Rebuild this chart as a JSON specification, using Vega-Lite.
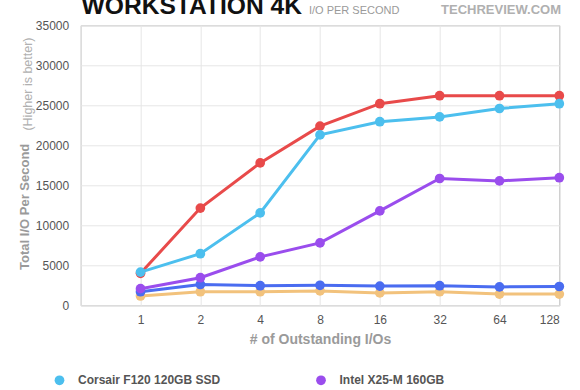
{
  "$schema": "https://vega.github.io/schema/vega-lite/v6.json",
  "width": 478.6,
  "height": 280,
  "autosize": {"type": "none"},
  "padding": {"left": 80.7, "top": 25.3, "right": 20.7, "bottom": 84.7},
  "background": "white",
  "config": {
    "view": {"stroke": "#b0b0b0", "strokeWidth": 1},
    "font": "Liberation Sans",
    "axis": {
      "labelFont": "Liberation Sans",
      "labelFontSize": 12,
      "labelColor": "#555555",
      "labelOverlap": false,
      "titleFont": "Liberation Sans",
      "titleColor": "#9a9a9a",
      "titleFontWeight": "bold",
      "gridColor": "#e6e6e6",
      "gridWidth": 1,
      "ticks": false,
      "domain": false
    },
    "axisY": {"labelOverlap": false},
    "axisQuantitative": {"labelOverlap": false}
  },
  "resolve": {"axis": {"x": "independent", "y": "independent"}},
  "layer": [
    {
      "data": {
        "values": [
          {"series": "WD VelociRaptor", "ios": 1, "iops": 1170},
          {"series": "WD VelociRaptor", "ios": 2, "iops": 1700},
          {"series": "WD VelociRaptor", "ios": 4, "iops": 1700},
          {"series": "WD VelociRaptor", "ios": 8, "iops": 1800},
          {"series": "WD VelociRaptor", "ios": 16, "iops": 1550},
          {"series": "WD VelociRaptor", "ios": 32, "iops": 1700},
          {"series": "WD VelociRaptor", "ios": 64, "iops": 1400},
          {"series": "WD VelociRaptor", "ios": 128, "iops": 1400},
          {"series": "Kingston V+ 128GB", "ios": 1, "iops": 1700},
          {"series": "Kingston V+ 128GB", "ios": 2, "iops": 2600},
          {"series": "Kingston V+ 128GB", "ios": 4, "iops": 2450},
          {"series": "Kingston V+ 128GB", "ios": 8, "iops": 2500},
          {"series": "Kingston V+ 128GB", "ios": 16, "iops": 2400},
          {"series": "Kingston V+ 128GB", "ios": 32, "iops": 2450},
          {"series": "Kingston V+ 128GB", "ios": 64, "iops": 2300},
          {"series": "Kingston V+ 128GB", "ios": 128, "iops": 2350},
          {"series": "OCZ Vertex 2 120GB", "ios": 1, "iops": 4000},
          {"series": "OCZ Vertex 2 120GB", "ios": 2, "iops": 12150},
          {"series": "OCZ Vertex 2 120GB", "ios": 4, "iops": 17800},
          {"series": "OCZ Vertex 2 120GB", "ios": 8, "iops": 22400},
          {"series": "OCZ Vertex 2 120GB", "ios": 16, "iops": 25200},
          {"series": "OCZ Vertex 2 120GB", "ios": 32, "iops": 26200},
          {"series": "OCZ Vertex 2 120GB", "ios": 64, "iops": 26200},
          {"series": "OCZ Vertex 2 120GB", "ios": 128, "iops": 26200},
          {"series": "Intel X25-M 160GB", "ios": 1, "iops": 2080},
          {"series": "Intel X25-M 160GB", "ios": 2, "iops": 3450},
          {"series": "Intel X25-M 160GB", "ios": 4, "iops": 6050},
          {"series": "Intel X25-M 160GB", "ios": 8, "iops": 7800},
          {"series": "Intel X25-M 160GB", "ios": 16, "iops": 11800},
          {"series": "Intel X25-M 160GB", "ios": 32, "iops": 15850},
          {"series": "Intel X25-M 160GB", "ios": 64, "iops": 15550},
          {"series": "Intel X25-M 160GB", "ios": 128, "iops": 15950},
          {"series": "Corsair F120 120GB SSD", "ios": 1, "iops": 4150},
          {"series": "Corsair F120 120GB SSD", "ios": 2, "iops": 6450},
          {"series": "Corsair F120 120GB SSD", "ios": 4, "iops": 11550},
          {"series": "Corsair F120 120GB SSD", "ios": 8, "iops": 21300},
          {"series": "Corsair F120 120GB SSD", "ios": 16, "iops": 22950},
          {"series": "Corsair F120 120GB SSD", "ios": 32, "iops": 23550},
          {"series": "Corsair F120 120GB SSD", "ios": 64, "iops": 24600},
          {"series": "Corsair F120 120GB SSD", "ios": 128, "iops": 25200}
        ]
      },
      "encoding": {
        "x": {
          "field": "ios",
          "type": "quantitative",
          "scale": {"type": "log", "base": 2, "domain": [0.5, 128], "nice": false},
          "axis": {
            "values": [0.5, 1, 2, 4, 8, 16, 32, 64, 128],
            "labelExpr": "datum.value < 1 ? '' : format(datum.value, 'd')",
            "labelOverlap": false,
            "title": "# of Outstanding I/Os",
            "titleFontSize": 14,
            "labelPadding": 9,
            "titlePadding": 7
          }
        },
        "y": {
          "field": "iops",
          "type": "quantitative",
          "scale": {"domain": [0, 35000], "nice": false},
          "axis": {
            "values": [0, 5000, 10000, 15000, 20000, 25000, 30000, 35000],
            "format": "d",
            "labelOverlap": false,
            "labelPadding": 12,
            "title": "Total I/O Per Second",
            "titleFontSize": 13,
            "titleX": -49,
            "titleY": 181
          }
        },
        "color": {
          "field": "series",
          "type": "nominal",
          "scale": {
            "domain": ["Corsair F120 120GB SSD", "OCZ Vertex 2 120GB", "WD VelociRaptor", "Intel X25-M 160GB", "Kingston V+ 128GB"],
            "range": ["#4cbfee", "#e84a4a", "#f2c27c", "#9a4ded", "#4a6cf0"]
          },
          "legend": {
            "orient": "none",
            "legendX": -27.2,
            "legendY": 349,
            "title": null,
            "columns": 2,
            "columnPadding": 94.5,
            "rowPadding": 10,
            "padding": 0,
            "symbolType": "circle",
            "symbolSize": 95,
            "symbolStrokeWidth": 0,
            "labelFont": "Liberation Sans",
            "labelFontSize": 12,
            "labelFontWeight": "bold",
            "labelColor": "#555555",
            "labelOffset": 12.5,
            "labelLimit": 300
          }
        }
      },
      "layer": [
        {"mark": {"type": "line", "strokeWidth": 3}},
        {"mark": {"type": "point", "filled": true, "size": 95, "opacity": 1}}
      ]
    },
    {
      "data": {"values": [{"label": "WORKSTATION 4K"}]},
      "mark": {"type": "text", "align": "left", "baseline": "alphabetic", "fontSize": 24.6, "fontWeight": "bold", "color": "#111111", "font": "Liberation Sans"},
      "encoding": {
        "text": {"field": "label"},
        "x": {"datum": 0.505, "type": "quantitative", "axis": null},
        "y": {"datum": 36450, "type": "quantitative", "axis": null}
      }
    },
    {
      "data": {"values": [{"label": "I/O PER SECOND"}]},
      "mark": {"type": "text", "align": "left", "baseline": "alphabetic", "fontSize": 11, "color": "#9a9a9a", "font": "Liberation Sans"},
      "encoding": {
        "text": {"field": "label"},
        "x": {"datum": 7.04, "type": "quantitative", "axis": null},
        "y": {"datum": 36450, "type": "quantitative", "axis": null}
      }
    },
    {
      "data": {"values": [{"label": "TECHREVIEW.COM"}]},
      "mark": {"type": "text", "align": "right", "baseline": "alphabetic", "fontSize": 13, "fontWeight": "bold", "color": "#b0b0b0", "font": "Liberation Sans"},
      "encoding": {
        "text": {"field": "label"},
        "x": {"datum": 130.5, "type": "quantitative", "axis": null},
        "y": {"datum": 36450, "type": "quantitative", "axis": null}
      }
    },
    {
      "data": {"values": [{"label": "(Higher is better)"}]},
      "mark": {"type": "text", "align": "center", "baseline": "alphabetic", "angle": 270, "fontSize": 12.5, "color": "#b0b0b0", "font": "Liberation Sans"},
      "encoding": {
        "text": {"field": "label"},
        "x": {"datum": 0.2845, "type": "quantitative", "axis": null},
        "y": {"datum": 27660, "type": "quantitative", "axis": null}
      }
    }
  ]
}
